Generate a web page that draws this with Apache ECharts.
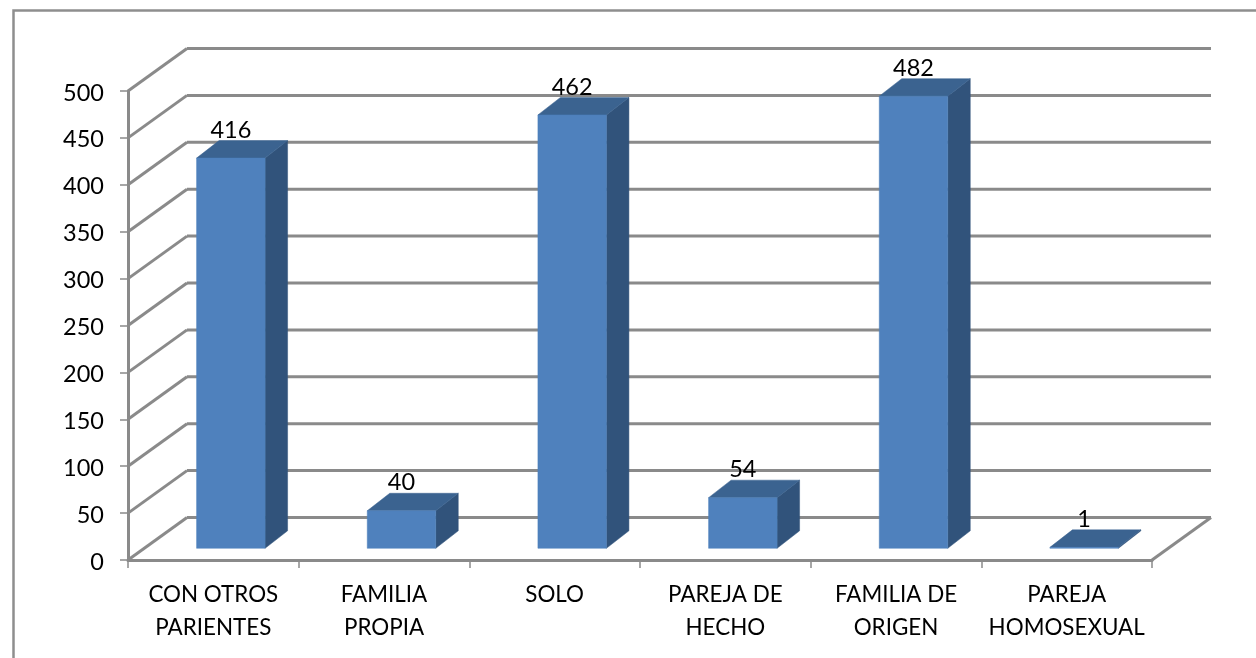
<!DOCTYPE html>
<html><head><meta charset="utf-8">
<style>html,body{margin:0;padding:0;background:#fff}#c{width:1256px;height:658px}</style>
<script src="https://cdn.jsdelivr.net/npm/echarts@6/dist/echarts.min.js"></script>
</head><body><div id="c"></div>
<script>
var categories = ['CON OTROS\nPARIENTES','FAMILIA\nPROPIA','SOLO','PAREJA DE\nHECHO','FAMILIA DE\nORIGEN','PAREJA\nHOMOSEXUAL'];
var values = [416,40,462,54,482,1];
var yTicks = [0,50,100,150,200,250,300,350,400,450,500];

var WALL_DX = 59, WALL_DY = -42.5;
var BAR_OFF_X = 17.5, BAR_OFF_Y = -11.7, BAR_W = 68.5, BAR_DX = 22.5, BAR_DY = -17.5;
var GRID_COLOR = '#8A8A8A', FONT = 'Lato';

var chart = echarts.init(document.getElementById('c'), null, {renderer:'canvas'});
chart.setOption({
  animation:false,
  backgroundColor:'#fff',
  graphic:[{type:'polyline',silent:true,z:0,shape:{points:[[13.5,658],[13.5,10.5],[1256,10.5]]},style:{fill:null,stroke:'#8E8E8E',lineWidth:2.5}}],
  grid:{left:128,right:104,top:91,bottom:98,containLabel:false},
  xAxis:{type:'category',data:categories,
    axisLine:{show:true,lineStyle:{color:GRID_COLOR,width:3}},
    axisTick:{show:true,alignWithLabel:false,length:8,lineStyle:{color:GRID_COLOR,width:1.5}},
    axisLabel:{color:'#000',fontFamily:FONT,fontSize:22.4,lineHeight:33,margin:18,interval:0},
    splitLine:{show:false}},
  yAxis:{type:'value',min:0,max:500,interval:50,
    axisLine:{show:true,lineStyle:{color:GRID_COLOR,width:3}},
    axisTick:{show:true,length:8,lineStyle:{color:GRID_COLOR,width:1.5}},
    axisLabel:{color:'#000',fontFamily:FONT,fontSize:23.5,margin:24,verticalAlign:'top',lineHeight:4},
    splitLine:{show:false}},
  series:[
    {type:'custom',coordinateSystem:'cartesian2d',z:1,silent:true,
     data:yTicks.map(function(v){return [0,v];}),
     encode:{x:0,y:1},
     renderItem:function(params,api){
       var cs=params.coordSys, y=api.coord([0,api.value(1)])[1];
       var x0=cs.x, x1=cs.x+cs.width, st={stroke:GRID_COLOR,lineWidth:3,fill:null};
       var kids=[
         {type:'line',shape:{x1:x0,y1:y,x2:x0+WALL_DX,y2:y+WALL_DY},style:st},
         {type:'line',shape:{x1:x0+WALL_DX,y1:y+WALL_DY,x2:x1+WALL_DX,y2:y+WALL_DY},style:st}];
       if(api.value(1)===0){kids.push({type:'line',shape:{x1:x1,y1:y,x2:x1+WALL_DX,y2:y+WALL_DY},style:st});}
       return {type:'group',children:kids};
     }},
    {type:'custom',coordinateSystem:'cartesian2d',z:2,silent:true,
     data:values.map(function(v,i){return [i,v];}),
     encode:{x:0,y:1},
     renderItem:function(params,api){
       var top=api.coord([api.value(0),api.value(1)]), base=api.coord([api.value(0),0]);
       var l=top[0]-BAR_W/2+BAR_OFF_X, r=l+BAR_W, t=top[1]+BAR_OFF_Y, b=base[1]+BAR_OFF_Y;
       function poly(pts,fill){return {type:'polygon',shape:{points:pts},style:{fill:fill,stroke:fill,lineWidth:0.5}};}
       return {type:'group',children:[
         poly([[r,t],[r+BAR_DX,t+BAR_DY],[r+BAR_DX,b+BAR_DY],[r,b]],'#31537B'),
         poly([[l,t],[l+BAR_DX,t+BAR_DY],[r+BAR_DX,t+BAR_DY],[r,t]],'#3B6390'),
         poly([[l,t],[r,t],[r,b],[l,b]],'#4F81BD'),
         {type:'text',z2:10,style:{text:String(api.value(1)),x:(l+r)/2,y:t-28,align:'center',verticalAlign:'middle',fill:'#000',fontFamily:FONT,fontSize:23.5}}
       ]};
     }}
  ]
});
</script></body></html>
